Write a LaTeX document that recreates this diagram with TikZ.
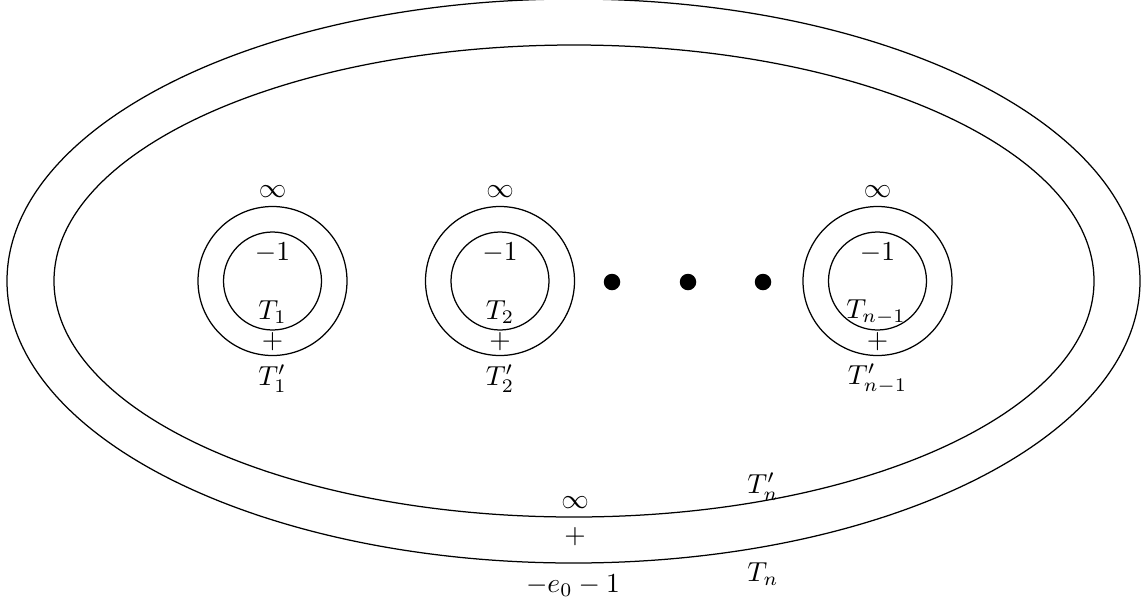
\documentclass[tikz,border=0pt]{standalone}
\begin{document}
\begin{tikzpicture}[x=0.4pt,y=-0.4pt,
  lbl/.style={inner sep=0pt, anchor=center, scale=1.1},
  ring/.style={draw, line width=0.5pt},
  blob/.style={circle, fill=black, inner sep=0pt, minimum size=6.6pt}]
\useasboundingbox (0,0) rectangle (1141,602);
% big ellipses
\draw[ring] (573.5,281) ellipse [x radius=226.6pt, y radius=112.8pt];
\draw[ring] (574,281) ellipse [x radius=208pt, y radius=94.4pt];
% small rings
\foreach \n/\cx in {a/272.5, b/500, c/877.5}{
  \coordinate (\n) at (\cx,281);
  \draw[ring] (\n) circle [radius=29.8pt];
  \draw[ring] (\n) circle [radius=19.6pt];
}
% labels ring 1
\node[lbl] (a1) at (272.5,192) {$\infty$};
\node[lbl] (a2) at (272.5,253) {$-1$};
\node[lbl] (a3) at (272.5,312) {$T_1$};
\node[lbl] (a4) at (272.5,342) {$+$};
\node[lbl] (a5) at (272.5,379) {$T_1'$};
% labels ring 2
\node[lbl] (b1) at (500,192) {$\infty$};
\node[lbl] (b2) at (500,253) {$-1$};
\node[lbl] (b3) at (500,312) {$T_2$};
\node[lbl] (b4) at (500,342) {$+$};
\node[lbl] (b5) at (500,379) {$T_2'$};
% labels ring 3
\node[lbl] (c1) at (877.5,192) {$\infty$};
\node[lbl] (c2) at (877.5,253) {$-1$};
\node[lbl] (c3) at (876,312) {$T_{n-1}$};
\node[lbl] (c4) at (877.5,342) {$+$};
\node[lbl] (c5) at (877.5,379) {$T_{n-1}'$};
% dots
\node[blob] (d1) at (612,282) {};
\node[blob] (d2) at (688,282) {};
\node[blob] (d3) at (763,282) {};
% bottom labels
\node[lbl] (e1) at (575,503) {$\infty$};
\node[lbl] (e2) at (575,537) {$+$};
\node[lbl] (e3) at (573,586) {$-e_0-1$};
\node[lbl] (e4) at (763,487) {$T_n'$};
\node[lbl] (e5) at (763,574) {$T_n$};
\end{tikzpicture}
\end{document}
